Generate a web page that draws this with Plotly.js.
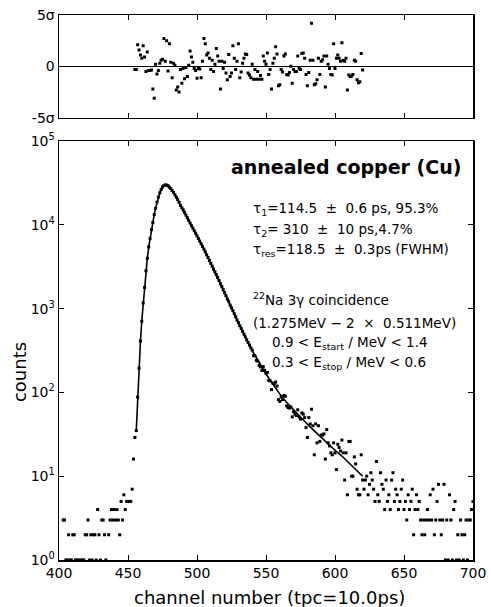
<!DOCTYPE html>
<html><head><meta charset="utf-8">
<script src="https://cdn.plot.ly/plotly-3.0.1.min.js"></script>
<style>html,body{margin:0;padding:0;background:#fff}</style>
</head><body>
<div id="chart" style="width:491px;height:607px"></div>
<script>
// ---- data ----
const firstChannel = 400;           // counts[i] belongs to channel 400 + i
const counts = [
  null,null,null,3,3,1,1,2,1,1,
  2,2,1,1,1,null,1,1,1,2,
  2,3,1,2,1,2,2,1,4,2,
  1,3,3,2,1,null,2,3,4,3,
  4,3,4,3,2,5,3,6,4,5,
  5,5,5,7,16,29,35,88,195,410,
  705,1170,1790,2830,3980,5450,6880,8750,10650,13250,
  15750,18650,21350,24050,26250,28300,29350,29950,29750,29250,
  28150,27050,25650,24350,22850,21350,19950,18550,17000,15980,
  15020,14050,13040,12150,11260,10480,9760,9130,8500,7930,
  7400,6880,6400,5930,5520,5140,4750,4390,4060,3750,
  3470,3210,2960,2740,2540,2350,2160,1980,1830,1680,
  1550,1430,1300,1210,1100,1020,945,870,800,730,
  680,625,580,535,495,460,425,395,366,340,
  320,275,273,241,236,210,202,183,203,184,
  169,173,139,137,108,129,128,133,119,82,
  78,88,82,92,90,69,66,65,67,51,
  59,55,53,62,51,48,57,55,50,38,
  29,50,42,63,40,18,42,25,40,26,
  31,31,32,16,36,25,23,19,18,25,
  19,12,24,22,20,27,19,9,19,6,
  26,26,10,10,17,14,7,6,6,18,
  9,7,9,10,6,8,11,9,7,5,
  15,6,5,11,8,7,4,9,5,6,
  4,9,11,5,7,6,4,5,7,9,
  4,5,3,6,4,5,7,2,4,6,
  4,5,3,2,3,2,3,4,3,6,
  3,7,2,3,5,8,3,2,3,8,
  1,3,1,6,3,1,4,5,1,2,
  1,3,2,1,2,3,1,3,3,4,
  5
];

const fitChannels = [456,457,458,459,460,461,462,463,464,465,466,467,468,469,470,471,472,473,474,475,476,477,478,479,480,482,484,486,488,490,495,500,505,510,515,520,525,530,535,540,545,550,555,560,565,570,575,580,585,590,595,600,605,610,615,620];
const fitCounts   = [35,85,190,400,720,1150,1800,2800,4000,5400,6900,8700,10700,13200,15800,18600,21400,24000,26300,28200,29400,29900,29800,29200,28200,25700,22900,20000,17000,15000,10470,7410,5130,3470,2340,1550,1020,680,457,316,229,166,126,95.5,75.9,61.7,50.1,41.7,34.7,28.8,24.5,20.4,17.4,14.5,12,10];

const residualFirstChannel = 455;   // residuals[i] belongs to channel 455 + i (in sigma)
const residuals = [
  -0.3,-0.3,2.1,1.6,1.1,0.8,2.0,0.9,-0.5,1.4,
  -0.4,-0.4,-0.35,-2.2,-3.1,0.2,-0.75,-0.4,0.3,0.6,
  0.7,2.7,0.5,2.5,-0.45,2.2,0.4,-1.1,0.3,0.1,
  -2.3,-2.0,-2.5,-0.3,-1.65,-0.2,-1.2,-0.1,-1.0,0.1,
  1.5,0.9,0.4,-0.2,-0.4,-1.15,-0.2,-0.25,-1.1,0.5,
  2.7,2.2,1.1,1.3,0.8,-0.3,0.6,-0.5,0.2,1.75,
  1.0,0.5,-2.2,0.5,-0.2,0.4,-0.65,-1.3,1.15,-1.0,
  -0.65,2.0,0.8,-0.3,0.5,2.2,-1.1,-0.55,0.3,0.8,
  1.2,1.15,-0.65,-0.85,-1.1,0.2,-1.25,-0.3,-1.25,-0.5,
  -1.25,-0.9,-1.25,1.0,0.5,0.2,1.3,-0.8,-0.3,-2.2,
  0.3,0.8,1.9,1.2,-1.9,-1.8,-0.3,-0.55,1.0,1.2,
  -0.8,-0.85,-0.6,0.0,-1.65,-0.3,-0.5,-0.5,1.0,-0.2,
  -0.3,1.26,1.3,0.8,-0.8,-1.9,-0.6,0.6,4.2,0.6,
  -1.8,-1.7,-1.3,0.8,-0.8,0.5,0.65,1.0,-2.0,1.0,
  0.2,-0.2,-0.8,-0.85,2.2,-0.2,0.8,1.1,0.8,0.5,
  2.3,0.6,0.5,0.8,-2.3,-0.85,-1.0,-0.95,-0.8,0.6,
  0.5,-1.3,-1.6,-1.5,1.25,-0.35
];

const xTickValues = [400,450,500,550,600,650,700];
const xTopTickValues = [450,500,550,600,650];
const yTickValues = [1,10,100,1000,10000,100000];
const yTickLabels = ['10<sup>0</sup>','10<sup>1</sup>','10<sup>2</sup>','10<sup>3</sup>','10<sup>4</sup>','10<sup>5</sup>'];
const residTickValues = [-5,0,5];
const residTickLabels = ['-5σ','0','5σ'];

const titleText = '<b>annealed copper (Cu)</b>';
const nb = '\u00a0';
const infoLines = [
  'τ<sub>1</sub>=114.5'+nb+nb+'±'+nb+nb+'0.6 ps, 95.3%',
  'τ<sub>2</sub>='+nb+'310'+nb+nb+'±'+nb+nb+'10 ps,4.7%',
  'τ<sub>res</sub>=118.5'+nb+nb+'±'+nb+nb+'0.3ps (FWHM)',
  '<sup>22</sup>Na 3γ coincidence',
  '(1.275MeV'+nb+'−'+nb+'2'+nb+nb+'×'+nb+nb+'0.511MeV)',
  '0.9 &lt; E<sub>start</sub> / MeV &lt; 1.4',
  '0.3 &lt; E<sub>stop</sub> / MeV &lt; 0.6'
];
const xTitle = 'channel number (tpc=10.0ps)';
const yTitle = 'counts';

// ---- layout geometry (pixels) ----
const W = 491, H = 607, L = 59, R = 473.5, T = 15, B = 560;
const mainTop = 141, residBottom = 117.7;
const fx = p => (p - L) / (R - L);
const fy = p => (B - p) / (B - T);
const FONT = 'DejaVu Sans, sans-serif';

const chX = counts.map((_, i) => firstChannel + i);
const resX = residuals.map((_, i) => residualFirstChannel + i);

const traces = [
  {type:'scatter', mode:'markers', x:chX, y:counts, xaxis:'x', yaxis:'y',
   marker:{symbol:'square', size:3, color:'#000', line:{width:0}}, hoverinfo:'skip'},
  {type:'scatter', mode:'lines', x:fitChannels, y:fitCounts, xaxis:'x', yaxis:'y',
   line:{color:'#000', width:1.6}, hoverinfo:'skip'},
  {type:'scatter', mode:'markers', x:resX, y:residuals, xaxis:'x2', yaxis:'y2',
   marker:{symbol:'square', size:3, color:'#000', line:{width:0}}, hoverinfo:'skip'}
];

const ax = {
  showline:true, linecolor:'#000', linewidth:1.5, mirror:'ticks',
  ticks:'inside', ticklen:5, tickwidth:1, tickcolor:'#000',
  showgrid:false, zeroline:false,
  tickfont:{family:FONT, size:14, color:'#000'}
};

function ann(text, xp, yp, extra) {
  return Object.assign({xref:'paper', yref:'paper', x:fx(xp), y:fy(yp),
    xanchor:'left', yanchor:'middle', showarrow:false, text:text,
    font:{family:FONT, size:13.5, color:'#000'}}, extra || {});
}

const annotations = [
  ann(titleText, 229, 167, {font:{family:FONT, size:19, color:'#000'}}),
  ann(infoLines[0], 251, 209),
  ann(infoLines[1], 251, 230),
  ann(infoLines[2], 251, 250),
  ann(infoLines[3], 251, 299),
  ann(infoLines[4], 251, 323),
  ann(infoLines[5], 270, 343),
  ann(infoLines[6], 270, 363),
  ann(xTitle, 270, 597, {xanchor:'center', font:{family:FONT, size:18, color:'#000'}}),
  ann(yTitle, 19, 372, {xanchor:'center', textangle:-90, font:{family:FONT, size:18, color:'#000'}})
];

const layout = {
  width:W, height:H, margin:{l:L, r:W-R, t:T, b:H-B, pad:0},
  paper_bgcolor:'#fff', plot_bgcolor:'#fff', showlegend:false,
  xaxis: Object.assign({}, ax, {domain:[0,1], range:[400,700], tickmode:'array', tickvals:xTickValues, anchor:'y'}),
  yaxis: Object.assign({}, ax, {type:'log', domain:[0, fy(mainTop)], range:[0,5], tickmode:'array',
          tickvals:yTickValues, ticktext:yTickLabels, anchor:'x'}),
  xaxis2: Object.assign({}, ax, {domain:[0,1], range:[400,700], tickmode:'array', tickvals:xTopTickValues,
          showticklabels:false, anchor:'y2'}),
  yaxis2: Object.assign({}, ax, {domain:[fy(residBottom), 1], range:[-5,5], tickmode:'array',
          tickvals:residTickValues, ticktext:residTickLabels, ticks:'', zeroline:true,
          zerolinecolor:'#000', zerolinewidth:1.5, anchor:'x2'}),
  annotations: annotations
};

Plotly.newPlot('chart', traces, layout, {staticPlot:true, displayModeBar:false});
</script>
</body></html>
